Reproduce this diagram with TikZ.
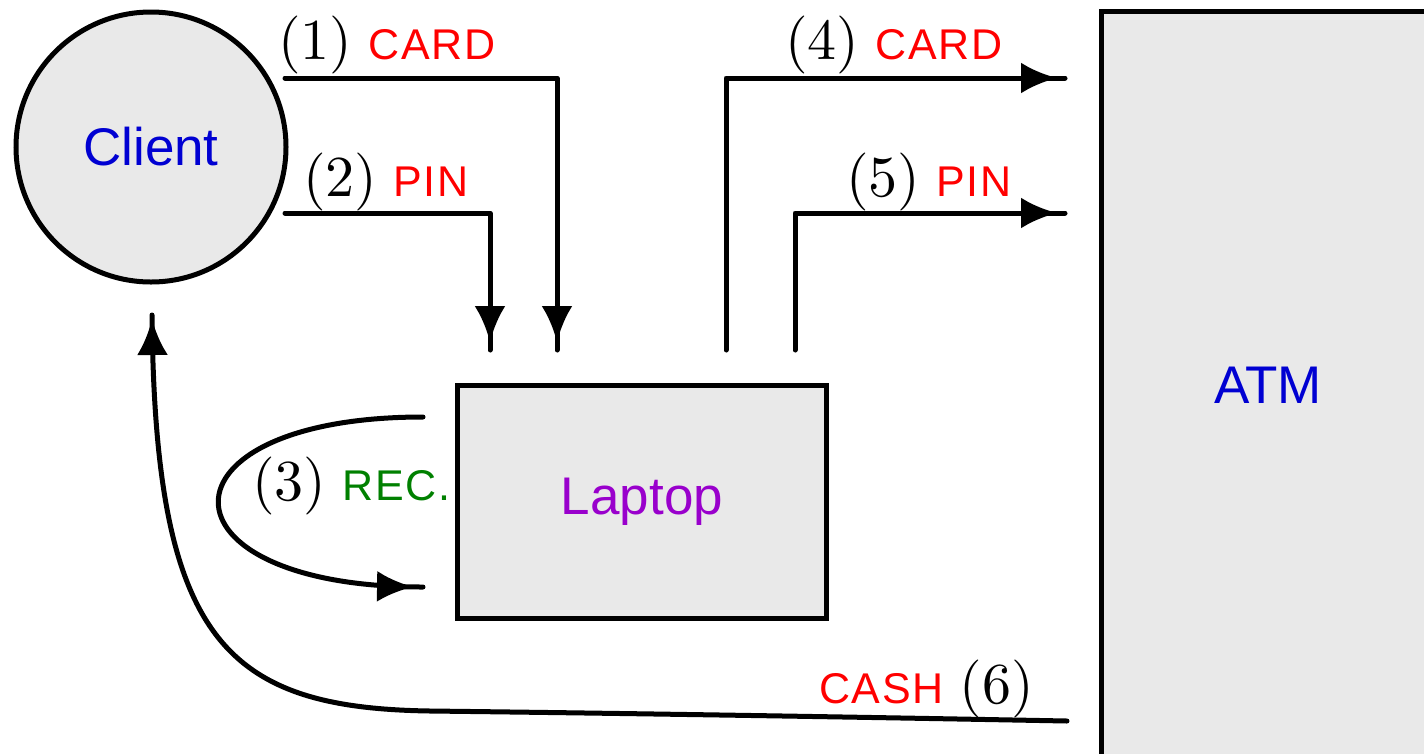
\documentclass[tikz,border=0pt]{standalone}
\usepackage{fontspec}
\setsansfont{Liberation Sans}
\newfontfamily\tagsans[LetterSpace=4]{Liberation Sans}
\newfontfamily\numroman{lmroman10-regular}[Extension=.otf]
\usetikzlibrary{arrows.meta,decorations.markings}

\definecolor{boxgray}{RGB}{233,233,233}
\definecolor{partyblue}{RGB}{0,0,210}
\definecolor{laptoppurple}{RGB}{153,0,204}
\definecolor{recgreen}{RGB}{0,128,0}

% step number in roman, message name in spaced sans
\newcommand\stepnum[1]{{\numroman\fontsize{58}{58}\selectfont(#1)}}
\newcommand\msgname[2]{{\tagsans\fontsize{43}{43}\selectfont\color{#1}#2}}

\begin{document}
\begin{tikzpicture}[x=1pt,y=-1pt,
  box/.style={draw, line width=5pt, fill=boxgray, inner sep=0pt},
  partyname/.style={font=\sffamily\fontsize{53}{53}\selectfont},
  flow/.style={line width=5pt, line cap=round, line join=round,
    postaction={decorate},
    decoration={markings, mark=at position -#1 with {\arrow{Latex[length=36pt,width=31pt]}}}},
  flow/.default=8pt,
  tag/.style={inner sep=0pt, anchor=base west}]
\useasboundingbox (0,0) rectangle (1424,753);
\clip (0,0) rectangle (1424,753);

% parties
\node[box, circle, minimum size=270pt, partyname, text=partyblue] (client) at (151,147) {Client};
\node[box, rectangle, minimum width=369pt, minimum height=233pt, partyname, text=laptoppurple] (laptop) at (642,502) {Laptop};
\node[box, rectangle, minimum width=334pt, minimum height=748pt, partyname, text=partyblue] (atm) at (1268,385) {ATM};

% end points of the message arrows
\coordinate (c1s) at (285,78);   \coordinate (c1e) at (557,350);
\coordinate (c2s) at (285,213);  \coordinate (c2e) at (490,350);
\coordinate (c4s) at (726,350);  \coordinate (c4e) at (1065,78);
\coordinate (c5s) at (795,350);  \coordinate (c5e) at (1065,213);
\coordinate (c3s) at (423,417);  \coordinate (c3e) at (423,587);
\coordinate (c6s) at (1067,721); \coordinate (c6m) at (430,711); \coordinate (c6e) at (152,315);

% messages
\draw[flow] (c1s) -| (c1e);
\draw[flow] (c2s) -| (c2e);
\draw[flow] (c4s) |- (c4e);
\draw[flow] (c5s) |- (c5e);
\draw[flow=10pt] (c3s) .. controls (150,417) and (150,587) .. (c3e);
\draw[flow=4pt] (c6s) .. controls (800,716) and (600,713) .. (c6m)
  .. controls (225,708) and (155,640) .. (c6e);

% labels
\node[tag] (l1) at (278,59)  {\stepnum{1}\hspace{16pt}\msgname{red}{CARD}};
\node[tag] (l2) at (303,196) {\stepnum{2}\hspace{16pt}\msgname{red}{PIN}};
\node[tag] (l3) at (252,500) {\stepnum{3}\hspace{16pt}\msgname{recgreen}{REC.}};
\node[tag] (l4) at (785,59)  {\stepnum{4}\hspace{16pt}\msgname{red}{CARD}};
\node[tag] (l5) at (846,196) {\stepnum{5}\hspace{16pt}\msgname{red}{PIN}};
\node[tag] (l6) at (819,703) {\msgname{red}{CASH}\hspace{16pt}\stepnum{6}};
\end{tikzpicture}
\end{document}
